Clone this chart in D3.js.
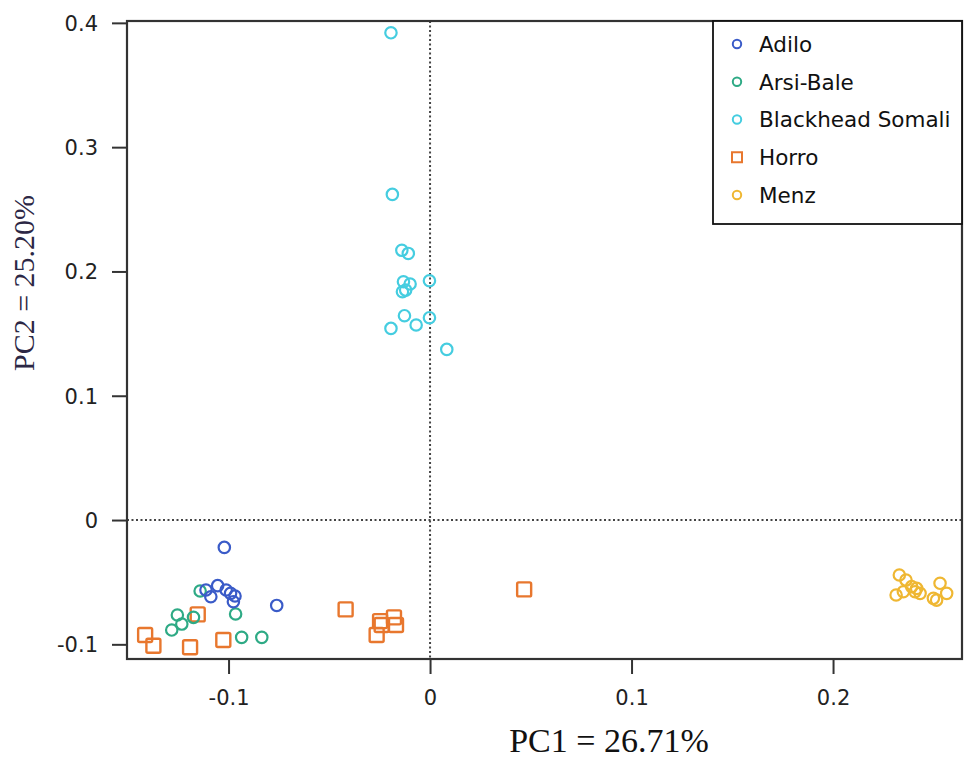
<!DOCTYPE html>
<html>
<head>
<meta charset="utf-8">
<script src="https://cdn.jsdelivr.net/npm/d3@7"></script>
<style>
  body { margin: 0; background: #fff; }
  svg { display: block; }
</style>
</head>
<body>
<svg id="canvas" width="970" height="765"></svg>
<script>
// data
let groups = ["Adilo", "Arsi-Bale", "Blackhead Somali", "Horro", "Menz"]

let adiloPC1 = [-0.1021, -0.1112, -0.1054, -0.1012, -0.1088, -0.0990, -0.0968, -0.0976, -0.0761]
let adiloPC2 = [-0.0220, -0.0563, -0.0528, -0.0563, -0.0617, -0.0590, -0.0611, -0.0657, -0.0687]

let arsiPC1 = [-0.1141, -0.1254, -0.1174, -0.1232, -0.1282, -0.0965, -0.0935, -0.0835]
let arsiPC2 = [-0.0571, -0.0764, -0.0783, -0.0837, -0.0885, -0.0756, -0.0944, -0.0944]

let somaliPC1 = [-0.0194, -0.0187, -0.0140, -0.0108, -0.0132, -0.0099, -0.0137, -0.0121,
                 -0.0003, -0.0127, -0.0194, -0.0069, -0.0003, 0.0083]
let somaliPC2 = [0.392, 0.262, 0.217, 0.2145, 0.1917, 0.1899, 0.1837, 0.1850,
                 0.1925, 0.1644, 0.1542, 0.1569, 0.1628, 0.1373]

let horroPC1 = [-0.1153, -0.1414, -0.1373, -0.1191, -0.1026, -0.0419, -0.0248, -0.0240,
                -0.0179, -0.0169, -0.0265, 0.0467]
let horroPC2 = [-0.0759, -0.0925, -0.1011, -0.1024, -0.0965, -0.0719, -0.0813, -0.0845,
                -0.0783, -0.0845, -0.0925, -0.0558]

let menzPC1 = [0.2329, 0.2362, 0.2349, 0.2313, 0.2390, 0.2407, 0.2432, 0.2415,
               0.2531, 0.2564, 0.2514, 0.2498]
let menzPC2 = [-0.0442, -0.0483, -0.0577, -0.0603, -0.0536, -0.0577, -0.0590, -0.0550,
               -0.0509, -0.0590, -0.0644, -0.0630]

let xTicks = [-0.1, 0, 0.1, 0.2]
let yTicks = [-0.1, 0, 0.1, 0.2, 0.3, 0.4]

let xTitle = "PC1 = 26.71%"
let yTitle = "PC2 = 25.20%"

// styles
let colors = {
    "Adilo": "#3a5bc8",
    "Arsi-Bale": "#2eaa85",
    "Blackhead Somali": "#45cde0",
    "Horro": "#e8772e",
    "Menz": "#efb732"
}
let shapes = {
    "Adilo": "circle",
    "Arsi-Bale": "circle",
    "Blackhead Somali": "circle",
    "Horro": "square",
    "Menz": "circle"
}

let series = {
    "Adilo": [adiloPC1, adiloPC2],
    "Arsi-Bale": [arsiPC1, arsiPC2],
    "Blackhead Somali": [somaliPC1, somaliPC2],
    "Horro": [horroPC1, horroPC2],
    "Menz": [menzPC1, menzPC2]
}

// drawing order (later on top)
let drawOrder = ["Horro", "Menz", "Blackhead Somali", "Arsi-Bale", "Adilo"]

let canvas = d3.select("#canvas")

let pLeft = 127, pRight = 962, pTop = 21, pBottom = 659

let x = d3.scaleLinear().domain([-0.1504, 0.264]).range([pLeft, pRight])
let y = d3.scaleLinear().domain([-0.1118, 0.4015]).range([pBottom, pTop])

let fmt = d => String(d)

// zero reference lines
canvas.append('line')
    .attr('x1', x(0)).attr('x2', x(0))
    .attr('y1', pTop).attr('y2', pBottom)
    .attr('stroke', '#444').attr('stroke-width', 2)
    .attr('stroke-dasharray', '2,2.5')

canvas.append('line')
    .attr('x1', pLeft).attr('x2', pRight)
    .attr('y1', y(0)).attr('y2', y(0))
    .attr('stroke', '#444').attr('stroke-width', 2)
    .attr('stroke-dasharray', '2,2.5')

// points
drawOrder.forEach(g => {
    let pts = series[g][0].map((v, i) => ({ px: v, py: series[g][1][i] }))
    if (shapes[g] === 'square') {
        canvas.append('g').selectAll('rect')
            .data(pts)
            .enter()
            .append('rect')
            .attr('x', d => x(d.px) - 7)
            .attr('y', d => y(d.py) - 7)
            .attr('width', 14)
            .attr('height', 14)
            .attr('rx', 1.5)
            .attr('fill', 'none')
            .attr('stroke', colors[g])
            .attr('stroke-width', 2.4)
    } else {
        canvas.append('g').selectAll('circle')
            .data(pts)
            .enter()
            .append('circle')
            .attr('cx', d => x(d.px))
            .attr('cy', d => y(d.py))
            .attr('r', 5.7)
            .attr('fill', 'none')
            .attr('stroke', colors[g])
            .attr('stroke-width', 2.2)
    }
})

// axes
let xAxis = d3.axisBottom(x).tickValues(xTicks).tickFormat(fmt).tickSize(15).tickPadding(16)
let yAxis = d3.axisLeft(y).tickValues(yTicks).tickFormat(fmt).tickSize(15).tickPadding(14)

let gx = canvas.append('g')
    .attr('transform', 'translate(0,' + pBottom + ')')
    .call(xAxis)
let gy = canvas.append('g')
    .attr('transform', 'translate(' + pLeft + ',0)')
    .call(yAxis)

;[gx, gy].forEach(a => {
    a.select('.domain').remove()
    a.selectAll('.tick line').attr('stroke', '#333').attr('stroke-width', 2)
    a.selectAll('.tick text')
        .attr('fill', '#222')
        .style('font-family', 'DejaVu Sans')
        .style('font-size', '21px')
})
gy.selectAll('.tick text').attr('dy', '0.35em')

// frame
canvas.append('rect')
    .attr('x', pLeft).attr('y', pTop)
    .attr('width', pRight - pLeft).attr('height', pBottom - pTop)
    .attr('fill', 'none')
    .attr('stroke', '#333')
    .attr('stroke-width', 2.2)

// legend
let legend = canvas.append('g')
let lgLeft = 713, lgTop = pTop, lgW = pRight - lgLeft, lgH = 203

legend.append('rect')
    .attr('x', lgLeft).attr('y', lgTop)
    .attr('width', lgW).attr('height', lgH)
    .attr('fill', '#fff')
    .attr('stroke', '#111')
    .attr('stroke-width', 1.8)

let rowY = d3.scalePoint().domain(groups).range([lgTop + 23, lgTop + 174])

let rows = legend.selectAll('g.row')
    .data(groups)
    .enter()
    .append('g')
    .attr('class', 'row')
    .attr('transform', d => 'translate(' + (lgLeft + 24) + ',' + rowY(d) + ')')

rows.each(function (g) {
    let r = d3.select(this)
    if (shapes[g] === 'square') {
        r.append('rect')
            .attr('x', -5).attr('y', -5)
            .attr('width', 10).attr('height', 10)
            .attr('fill', 'none')
            .attr('stroke', colors[g])
            .attr('stroke-width', 2)
    } else {
        r.append('circle')
            .attr('r', 4.2)
            .attr('fill', 'none')
            .attr('stroke', colors[g])
            .attr('stroke-width', 2)
    }
})

rows.append('text')
    .attr('x', 22)
    .attr('dy', '0.36em')
    .text(d => d)
    .attr('fill', '#111')
    .style('font-family', 'DejaVu Sans')
    .style('font-size', '21.5px')

// axis titles
canvas.append('text')
    .attr('x', 609)
    .attr('y', 752)
    .attr('text-anchor', 'middle')
    .text(xTitle)
    .attr('fill', '#111')
    .style('font-family', 'Liberation Serif')
    .style('font-size', '34px')

canvas.append('text')
    .attr('transform', 'translate(34,283) rotate(-90)')
    .attr('text-anchor', 'middle')
    .text(yTitle)
    .attr('fill', '#2c2745')
    .style('font-family', 'Liberation Serif')
    .style('font-size', '30px')
</script>
</body>
</html>
